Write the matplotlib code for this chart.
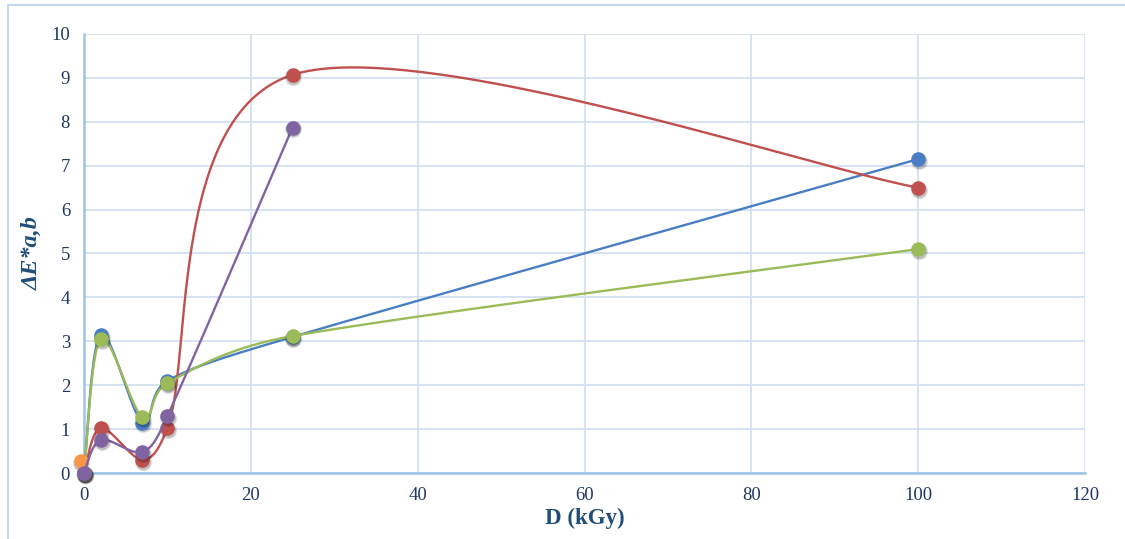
import numpy as np
import matplotlib
matplotlib.use("Agg")
import matplotlib.pyplot as plt
import matplotlib.transforms as mtransforms
from matplotlib.lines import Line2D

# ---- data ----
dose = [0, 2, 7, 10, 25, 100]
dose_purple = [0, 2, 7, 10, 25]
blue_vals = [0.0, 3.15, 1.15, 2.10, 3.10, 7.15]
red_vals = [0.0, 1.02, 0.30, 1.03, 9.07, 6.50]
green_vals = [0.0, 3.05, 1.27, 2.05, 3.12, 5.10]
purple_vals = [0.0, 0.75, 0.48, 1.30, 7.87]
orange_x = [-0.4]
orange_vals = [0.27]

x_ticks = [0, 20, 40, 60, 80, 100, 120]
y_ticks = list(range(0, 11))

colors = {
    "blue": "#4A7EC4",
    "red": "#C0504D",
    "green": "#9BBB59",
    "purple": "#8064A2",
    "orange": "#F79646",
}

# pixel scale of plot area (used only to make smoothing aspect-aware)
SX = 1001 / 120.0
SY = 439 / 10.0


def smooth(xs, ys, n=80):
    """Excel-like smoothed line: Bezier segments with limited handle length."""
    P = np.column_stack([np.asarray(xs, float) * SX, np.asarray(ys, float) * SY])
    out = []
    m = len(P)
    tension = 1.0 / 6.0
    for i in range(m - 1):
        p0 = P[i - 1] if i > 0 else P[i]
        p1 = P[i]
        p2 = P[i + 1]
        p3 = P[i + 2] if i + 2 < m else P[i + 1]
        d12 = np.linalg.norm(p2 - p1)
        d02 = np.linalg.norm(p2 - p0)
        d13 = np.linalg.norm(p3 - p1)
        f1 = tension if d02 == 0 else min(tension, d12 / (2 * d02))
        f2 = tension if d13 == 0 else min(tension, d12 / (2 * d13))
        c1 = p1 + (p2 - p0) * f1
        c2 = p2 - (p3 - p1) * f2
        t = np.linspace(0, 1, n)[:, None]
        seg = ((1 - t) ** 3) * p1 + 3 * t * (1 - t) ** 2 * c1 + 3 * t ** 2 * (1 - t) * c2 + t ** 3 * p2
        if i > 0:
            seg = seg[1:]
        out.append(seg)
    arr = np.vstack(out)
    return arr[:, 0] / SX, arr[:, 1] / SY


plt.rcParams["font.family"] = ["Liberation Serif", "DejaVu Serif"]

fig = plt.figure(figsize=(11.25, 5.39), dpi=100)
ax = fig.add_axes([84 / 1125, 66 / 539, (1085 - 84) / 1125, (473 - 34) / 539])

shadow_tr = ax.transData + mtransforms.ScaledTranslation(0.6 / 72, -1.4 / 72, fig.dpi_scale_trans)
MS = 10.5


def draw_markers(xs, ys, c, z):
    for extra, a in [(2.2, 0.06), (1.2, 0.09), (0.3, 0.12)]:
        ax.plot(xs, ys, linestyle="none", marker="o", markersize=MS + extra, color="black",
                alpha=a, markeredgewidth=0, zorder=z, clip_on=False, transform=shadow_tr)
    ax.plot(xs, ys, linestyle="none", marker="o", markersize=MS, color=c,
            markeredgewidth=0, zorder=z + 0.1, clip_on=False)


series = [
    (dose, blue_vals, colors["blue"]),
    (dose, red_vals, colors["red"]),
    (dose, green_vals, colors["green"]),
    (orange_x, orange_vals, colors["orange"]),
    (dose_purple, purple_vals, colors["purple"]),
]
z = 3
for xs, ys, c in series:
    if len(xs) > 1:
        sx, sy = smooth(xs, ys)
        ax.plot(sx, sy, color=c, lw=1.7, zorder=z, clip_on=False)
    draw_markers(xs, ys, c, z + 0.2)
    z += 1

ax.set_xlim(0, 120)
ax.set_ylim(0, 10)
ax.set_xticks(x_ticks)
ax.set_yticks(y_ticks)

grid_c = "#D3E0F1"
spine_c = "#9DC3E6"
ax.grid(True, color=grid_c, lw=1.3, zorder=0)
ax.set_axisbelow(True)
for s in ["top", "right"]:
    ax.spines[s].set_visible(False)
for s in ["left", "bottom"]:
    ax.spines[s].set_color(spine_c)
    ax.spines[s].set_linewidth(1.8)
ax.tick_params(length=0, labelsize=13.5, labelcolor="#1F3864")
ax.tick_params(axis="x", pad=10)
ax.tick_params(axis="y", pad=10)

ax.set_xlabel("D (kGy)", fontsize=16.5, fontweight="bold", color="#1F4E79", labelpad=3)
ax.set_ylabel("ΔE*a,b", fontsize=17.5, fontweight="bold", fontstyle="italic",
              color="#1F4E79", labelpad=6)

# chart-area border
fig.add_artist(Line2D([8 / 1125, 8 / 1125], [0, 1 - 5 / 539], transform=fig.transFigure,
                      color="#C5D9F1", lw=1.5))
fig.add_artist(Line2D([8 / 1125, 1], [1 - 5 / 539, 1 - 5 / 539], transform=fig.transFigure,
                      color="#C5D9F1", lw=1.5))

fig.savefig("out.png", dpi=100)
